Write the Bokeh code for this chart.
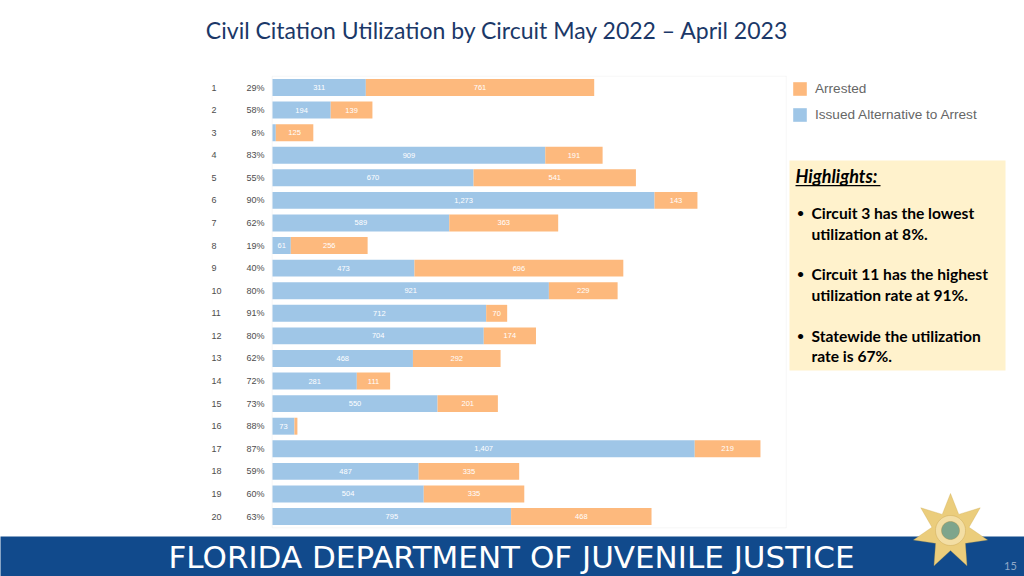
import numpy as np
from bokeh.plotting import figure
from bokeh.models import (ColumnDataSource, Range1d, Label, BoxAnnotation,
                          PolyAnnotation, Legend, LegendItem)
from bokeh.core.properties import value
from bokeh.embed import file_html
from bokeh.resources import INLINE

# ---------------- data ----------------
circuits = ["1", "2", "3", "4", "5", "6", "7", "8", "9", "10",
            "11", "12", "13", "14", "15", "16", "17", "18", "19", "20"]
issued = [311, 194, 11, 909, 670, 1273, 589, 61, 473, 921,
          712, 704, 468, 281, 550, 73, 1407, 487, 504, 795]
arrested = [761, 139, 125, 191, 541, 143, 363, 256, 696, 229,
            70, 174, 292, 111, 201, 10, 219, 335, 335, 468]
pct_labels = ["29%", "58%", "8%", "83%", "55%", "90%", "62%", "19%", "40%", "80%",
              "91%", "80%", "62%", "72%", "73%", "88%", "87%", "59%", "60%", "63%"]

title_text = "Civil Citation Utilization by Circuit May 2022 \u2013 April 2023"
legend_labels = ["Arrested", "Issued Alternative to Arrest"]
highlights_title = "Highlights:"
highlights = [
    ["Circuit 3 has the lowest", "utilization at 8%."],
    ["Circuit 11 has the highest", "utilization rate at 91%."],
    ["Statewide the utilization", "rate is 67%."],
]
footer_text = "FLORIDA DEPARTMENT OF JUVENILE JUSTICE"
page_number = "15"

# ---------------- layout constants ----------------
W, H = 1024, 576
BLUE = "#9fc6e7"
ORANGE = "#fdb97d"
PX_PER_UNIT = 0.3001
BAR_ORIGIN_PX = 272.0
ROW1_PX = 87.0
ROW_PX = 22.58
X_BOX_END = 1712

def sy(page_y):
    # page y (from top) -> screen y measured from the frame bottom
    return H - page_y

def sx(page_x):
    return page_x

# ---------------- source ----------------
n = len(circuits)
rows = list(range(1, n + 1))
iss = np.array(issued, dtype=float)
arr = np.array(arrested, dtype=float)
src = ColumnDataSource(dict(
    row=rows,
    circuit=circuits,
    pct=pct_labels,
    issued=iss,
    total=iss + arr,
    mid_iss=iss / 2,
    mid_arr=iss + arr / 2,
    lab_iss=[f"{int(v):,}" if v >= 40 else "" for v in iss],
    lab_arr=[f"{int(v):,}" if v >= 40 else "" for v in arr],
))

x_range = Range1d(-BAR_ORIGIN_PX / PX_PER_UNIT, (W - BAR_ORIGIN_PX) / PX_PER_UNIT)
y_range = Range1d(1 + (H - ROW1_PX) / ROW_PX, 1 - ROW1_PX / ROW_PX)

p = figure(width=W, height=H, x_range=x_range, y_range=y_range,
           x_axis_type=None, y_axis_type=None, toolbar_location=None,
           output_backend="svg", min_border=0)
p.title.visible = False
p.outline_line_color = None
p.xgrid.visible = False
p.ygrid.visible = False
p.background_fill_color = "white"
p.border_fill_color = "white"

# chart frame box
p.add_layout(BoxAnnotation(left=-1, right=X_BOX_END, top=0.5, bottom=20.5,
                           fill_alpha=0, line_color="#e4e4e4", line_width=1,
                           level="underlay"))

r_iss = p.hbar(y="row", left=0, right="issued", height=0.75, source=src,
               fill_color=BLUE, line_color=None)
r_arr = p.hbar(y="row", left="issued", right="total", height=0.75, source=src,
               fill_color=ORANGE, line_color=None)

p.text(x="mid_iss", y="row", text="lab_iss", source=src, text_color="white",
       text_font=value("Liberation Sans"), text_font_size="7.5px",
       text_align="center", text_baseline="middle")
p.text(x="mid_arr", y="row", text="lab_arr", source=src, text_color="white",
       text_font=value("Liberation Sans"), text_font_size="7.5px",
       text_align="center", text_baseline="middle")

# row labels: circuit number and utilization %
p.text(x=0, y="row", text="circuit", source=src, x_offset=-61,
       text_color="#4d4d4d", text_font=value("Liberation Sans"),
       text_font_size="9px", text_align="left", text_baseline="middle")
p.text(x=0, y="row", text="pct", source=src, x_offset=-8,
       text_color="#4d4d4d", text_font=value("Liberation Sans"),
       text_font_size="9px", text_align="right", text_baseline="middle")

# legend
legend = Legend(items=[LegendItem(label=legend_labels[0], renderers=[r_arr]),
                       LegendItem(label=legend_labels[1], renderers=[r_iss])],
                location=(sx(791), sy(123)), orientation="vertical",
                glyph_width=17, glyph_height=17, label_height=17, spacing=9,
                padding=0, margin=0, border_line_color=None,
                background_fill_alpha=0, label_standoff=7,
                label_text_font="Liberation Sans", label_text_font_size="13.6px",
                label_text_color="#666666")
p.add_layout(legend)

# title
p.add_layout(Label(x=sx(497), y=sy(29), x_units="screen", y_units="screen",
                   text=title_text, text_font="Lato", text_font_size="23px",
                   text_color="#1b3868", text_align="center",
                   text_baseline="middle"))

# highlights box
p.add_layout(BoxAnnotation(left=sx(789), right=sx(1005), top=sy(160), bottom=sy(370),
                           left_units="screen", right_units="screen",
                           top_units="screen", bottom_units="screen",
                           fill_color="#fff2cc", fill_alpha=1, line_color=None))
p.add_layout(Label(x=sx(795), y=sy(175), x_units="screen", y_units="screen",
                   text=highlights_title, text_font="Lato", text_font_size="18px",
                   text_font_style="bold italic", text_color="black",
                   text_baseline="middle"))
p.add_layout(BoxAnnotation(left=sx(795), right=sx(880), top=sy(184.5), bottom=sy(185.7),
                           left_units="screen", right_units="screen",
                           top_units="screen", bottom_units="screen",
                           fill_color="black", fill_alpha=1, line_color=None))
line_y = [(212, 233), (273, 294), (335, 355)]
for (l1, l2), (y1, y2) in zip(highlights, line_y):
    p.add_layout(Label(x=sx(796), y=sy(y1), x_units="screen", y_units="screen",
                       text="\u2022", text_font="Lato", text_font_size="14px",
                       text_color="black", text_baseline="middle"))
    for t, yy in ((l1, y1), (l2, y2)):
        p.add_layout(Label(x=sx(811), y=sy(yy), x_units="screen", y_units="screen",
                           text=t, text_font="Lato", text_font_size="15.6px",
                           text_font_style="bold", text_color="black",
                           text_baseline="middle"))

# footer band
p.add_layout(BoxAnnotation(left=-5, right=W + 5, top=sy(536), bottom=-5,
                           left_units="screen", right_units="screen",
                           top_units="screen", bottom_units="screen",
                           fill_color="#114a8c", fill_alpha=1, line_color=None))
p.add_layout(Label(x=sx(511), y=sy(556), x_units="screen", y_units="screen",
                   text=footer_text, text_font="DejaVu Sans", text_font_size="31px",
                   text_color="white", text_align="center", text_baseline="middle"))
p.add_layout(Label(x=sx(1010), y=sy(565), x_units="screen", y_units="screen",
                   text=page_number, text_font="Lato", text_font_size="11px",
                   text_color="#8fa8c8", text_align="center", text_baseline="middle"))

# badge (decorative 7-point star with seal)
cx, cy = sx(950), sy(531)
ang = np.pi / 2 + np.arange(14) * np.pi / 7
rad = np.where(np.arange(14) % 2 == 0, 38.0, 19.0)
p.add_layout(PolyAnnotation(xs=list(cx + rad * np.cos(ang)), ys=list(cy + rad * np.sin(ang)),
                            xs_units="screen", ys_units="screen",
                            fill_color="#ebcd7c", fill_alpha=1,
                            line_color="#c9a446", line_width=1))
t = np.linspace(0, 2 * np.pi, 40, endpoint=False)
p.add_layout(PolyAnnotation(xs=list(cx + 15 * np.cos(t)), ys=list(cy + 1 + 15 * np.sin(t)),
                            xs_units="screen", ys_units="screen",
                            fill_color="#f3dea4", fill_alpha=1,
                            line_color="#b8913a", line_width=1))
p.add_layout(PolyAnnotation(xs=list(cx + 9 * np.cos(t)), ys=list(cy + 1 + 9 * np.sin(t)),
                            xs_units="screen", ys_units="screen",
                            fill_color="#7ea58c", fill_alpha=1,
                            line_color="#a07a30", line_width=1))

open("out.html", "w").write(file_html(p, INLINE))
